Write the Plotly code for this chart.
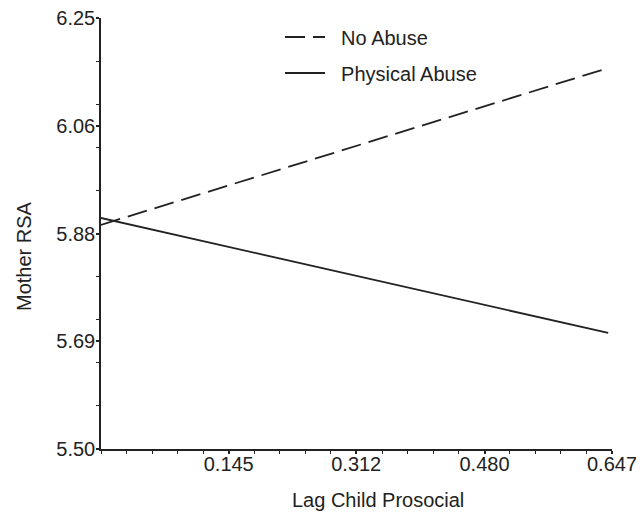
import plotly.graph_objects as go

# Data
x_vals = [-0.0223, 0.642]
no_abuse = [5.890, 6.163]
physical_abuse = [5.902, 5.702]
series_names = ["No Abuse", "Physical Abuse"]

x_tickvals = [0.145, 0.312, 0.480, 0.647]
x_ticktext = ["0.145", "0.312", "0.480", "0.647"]
y_tickvals = [5.5, 5.6875, 5.875, 6.0625, 6.25]
y_ticktext = ["5.50", "5.69", "5.88", "6.06", "6.25"]

OFF = 8  # default page body margin
W, H = 644 - OFF, 513 - OFF
# plot area in page pixels: x 101..612, y 18..449
L, T = 101 - OFF, 18 - OFF
R = W - (612 - OFF)
B = H - (449 - OFF)
PW, PH = W - L - R, H - T - B
FONT = "Liberation Sans, Arial, sans-serif"
INK = "#222222"
PAD = "\u00a0\u00a0"

fig = go.Figure()
fig.add_trace(go.Scatter(
    x=x_vals, y=no_abuse, mode="lines", name=PAD + series_names[0],
    line=dict(color=INK, width=1.8, dash="20px,8px"), legend="legend"))
fig.add_trace(go.Scatter(
    x=x_vals, y=physical_abuse, mode="lines", name=PAD + series_names[1],
    line=dict(color=INK, width=1.8), legend="legend2"))

def px_x(px):
    return (px - OFF - L) / PW

def px_y(py):
    return 1 - (py - OFF - T) / PH

leg_common = dict(xref="paper", yref="paper", xanchor="left", yanchor="middle",
                  bgcolor="rgba(0,0,0,0)", font=dict(family=FONT, size=20, color=INK),
                  itemwidth=40)
fig.update_layout(
    width=W, height=H,
    margin=dict(l=L, r=R, t=T, b=B, autoexpand=False),
    paper_bgcolor="white", plot_bgcolor="white",
    font=dict(family=FONT, size=20, color=INK),
    showlegend=True,
    legend=dict(x=px_x(280), y=px_y(37), **leg_common),
    legend2=dict(x=px_x(280), y=px_y(73), **leg_common),
    xaxis=dict(range=[-0.0223, 0.647], showgrid=False, zeroline=False,
               showline=True, linecolor=INK, linewidth=1.5,
               tickmode="array", tickvals=x_tickvals, ticktext=x_ticktext,
               ticks="outside", ticklen=3, tickcolor=INK, tickwidth=1.5,
               tickangle=0, ticklabelstandoff=-7, ticklabeloverflow="allow",
               tickfont=dict(family=FONT, size=20, color=INK),
               minor=dict(ticks="outside", ticklen=3, tick0=-0.0223, dtick=0.03346,
                          tickcolor=INK, tickwidth=1.2, showgrid=False)),
    yaxis=dict(range=[5.5, 6.25], showgrid=False, zeroline=False,
               showline=True, linecolor=INK, linewidth=1.5,
               tickmode="array", tickvals=y_tickvals, ticktext=y_ticktext,
               ticks="outside", ticklen=3, tickcolor=INK, tickwidth=1.5,
               ticklabelstandoff=-3, ticklabeloverflow="allow",
               tickfont=dict(family=FONT, size=20, color=INK),
               minor=dict(ticks="outside", ticklen=3, tick0=5.5, dtick=0.075,
                          tickcolor=INK, tickwidth=1.2, showgrid=False)),
    annotations=[
        dict(text="Lag Child Prosocial", xref="paper", yref="paper",
             x=px_x(378), y=px_y(500), xanchor="center", yanchor="middle",
             showarrow=False, font=dict(family=FONT, size=20, color=INK)),
        dict(text="Mother RSA", xref="paper", yref="paper",
             x=px_x(24), y=px_y(256), xanchor="center", yanchor="middle",
             textangle=-90, showarrow=False, font=dict(family=FONT, size=20, color=INK)),
    ],
)

fig.write_html("out.html")
